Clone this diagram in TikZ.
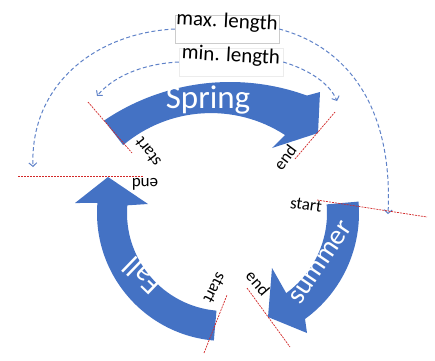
\documentclass[tikz,border=0pt]{standalone}
\usepackage{fontspec}
\setmainfont{Carlito}
\usetikzlibrary{calc,arrows.meta}
\definecolor{arrowblue}{RGB}{68,114,196}
\definecolor{dashblue}{RGB}{95,130,200}
\definecolor{markred}{RGB}{210,40,40}
\begin{document}
\begin{tikzpicture}[x=1pt,y=-1pt,
  lenarrow/.style={dashblue, line width=1pt, dash pattern=on 4pt off 2.5pt, -{Straight Barb[length=3.5pt,width=8pt]}},
  marker/.style={markred, line width=0.7pt, dash pattern=on 2pt off 1pt},
  band/.style={fill=arrowblue},
  bandtxt/.style={text=white, inner sep=0pt},
  lbl/.style={font=\fontsize{17}{20}\selectfont, inner sep=0pt},
  lentxt/.style={font=\fontsize{21}{24}\selectfont, inner sep=0pt},
  lenbox/.style={draw=gray!40, fill=white, minimum width=104pt, minimum height=28pt, inner sep=0pt},
]
\useasboundingbox (0,0) rectangle (435,360);

% length boxes
\node[lenbox] (maxbox) at (227,29) {};
\node[lentxt, rotate=-3] (maxtxt) at (227,22) {max. length};
\node[lenbox, draw=gray!15] (minbox) at (231,62) {};
\node[lentxt, rotate=-3] (mintxt) at (231,56) {min. length};

% dashed length arrows
\coordinate (maxLend) at (33,167);
\coordinate (maxRend) at (388,214);
\coordinate (minLend) at (97,96);
\coordinate (minRend) at (337,101);
\draw[lenarrow] (maxbox.west) .. controls (95,33) and (30,85) .. (maxLend);
\draw[lenarrow] (maxbox.east) .. controls (350,48) and (393,110) .. (maxRend);
\draw[lenarrow] (minbox.west) .. controls (140,64) and (112,78) .. (minLend);
\draw[lenarrow] (minbox.east) .. controls (310,70) and (330,84) .. (minRend);

% Spring arrow
\fill[band] ($(230,307)+(-124:225)$) arc[start angle=-124,end angle=-70,radius=225]
  -- (320,92) -- (318,133) -- (272,148) -- (285,135)
  arc[start angle=-57,end angle=-130.2,radius=136] -- cycle;
% Summer arrow
\fill[band] ($(228,213)+(-5:131)$) arc[start angle=-5,end angle=54,radius=131]
  -- (307,333) -- (268,317) -- (272,268) -- ($(228,213)+(54:99)$)
  arc[start angle=54,end angle=-5,radius=99] -- cycle;
% Fall arrow
\fill[band] ($(225,213)+(95:128)$) arc[start angle=95,end angle=184.5,radius=128]
  -- (75,203) -- (108,177) -- (148,204) -- ($(225,213)+(184.5:98)$)
  arc[start angle=184.5,end angle=95,radius=98] -- cycle;

% texts in arrows
\node[bandtxt, font=\fontsize{33}{36}\selectfont] (spring) at (208,100) {Spring};
\node[bandtxt, font=\fontsize{28}{32}\selectfont, rotate=56] (summer) at (321,263) {summer};
\node[bandtxt, font=\fontsize{30}{34}\selectfont, rotate=136] (fall) at (142,276) {Fall};

% start / end labels
\node[lbl, rotate=128] (springstart) at (148,152) {start};
\node[lbl, rotate=53] (springend) at (285,157) {end};
\node[lbl, rotate=180] (fallend) at (145,184) {end};
\node[lbl, rotate=-8] (summerstart) at (306,205) {start};
\node[lbl, rotate=-117] (fallstart) at (215,288) {start};
\node[lbl, rotate=-49] (summerend) at (258,283) {end};

% red marker lines
\coordinate (r1a) at (88,102);  \coordinate (r1b) at (132,153);
\coordinate (r2a) at (295,159); \coordinate (r2b) at (335,112);
\coordinate (r3a) at (18,176);  \coordinate (r3b) at (143,176);
\coordinate (r4a) at (317,200); \coordinate (r4b) at (427,217);
\coordinate (r5a) at (204,353); \coordinate (r5b) at (227,295);
\coordinate (r6a) at (247,288); \coordinate (r6b) at (290,347);
\draw[marker] (r1a) -- (r1b);
\draw[marker] (r2a) -- (r2b);
\draw[marker] (r3a) -- (r3b);
\draw[marker] (r4a) -- (r4b);
\draw[marker] (r5a) -- (r5b);
\draw[marker] (r6a) -- (r6b);
\end{tikzpicture}
\end{document}
